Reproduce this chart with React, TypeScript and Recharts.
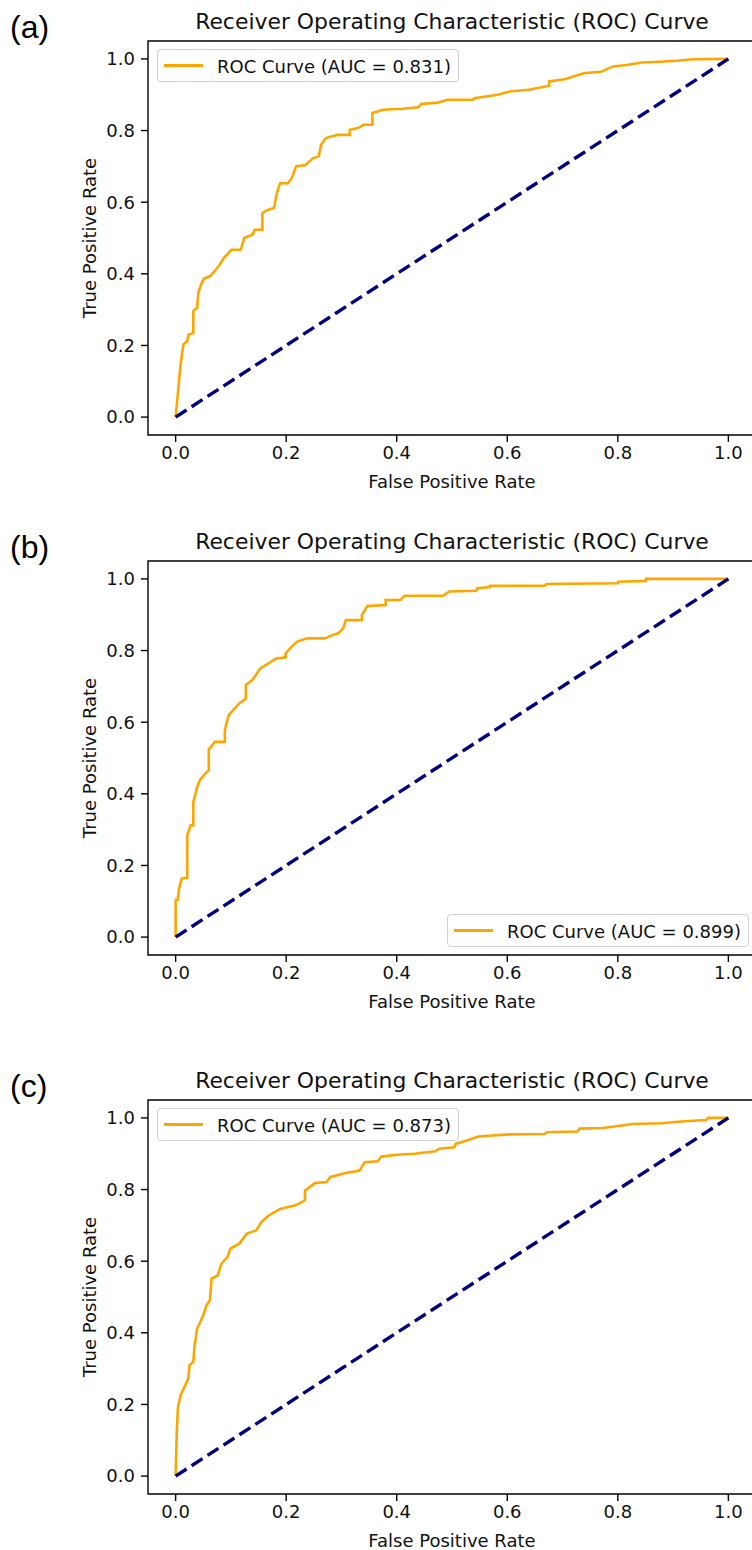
import React from 'react';
import { LineChart, Line, XAxis, YAxis, ReferenceArea } from 'recharts';

// shared axis ticks and panel labels
const ticks = [0, 0.2, 0.4, 0.6, 0.8, 1.0];
const panelLabels = ['(a)', '(b)', '(c)'];
const aucValues = [0.831, 0.899, 0.873];
const chance = [0, 1];

// (a) ROC points
const fprA = [0, 0.009, 0.014, 0.021, 0.023, 0.032, 0.032, 0.039, 0.041, 0.046, 0.051, 0.062, 0.073, 0.080, 0.087, 0.101, 0.118, 0.124, 0.139, 0.143, 0.157, 0.157, 0.168, 0.178, 0.183, 0.189, 0.203, 0.210, 0.218, 0.235, 0.249, 0.259, 0.263, 0.272, 0.280, 0.294, 0.315, 0.315, 0.330, 0.340, 0.356, 0.356, 0.375, 0.410, 0.439, 0.444, 0.475, 0.492, 0.537, 0.541, 0.562, 0.583, 0.604, 0.639, 0.676, 0.676, 0.704, 0.718, 0.738, 0.770, 0.791, 0.816, 0.844, 0.875, 0.907, 0.935, 1.0];
const tprA = [0, 0.147, 0.203, 0.212, 0.230, 0.235, 0.296, 0.305, 0.347, 0.370, 0.386, 0.393, 0.412, 0.426, 0.444, 0.467, 0.467, 0.500, 0.509, 0.523, 0.523, 0.570, 0.579, 0.584, 0.625, 0.653, 0.653, 0.667, 0.700, 0.704, 0.723, 0.728, 0.760, 0.779, 0.783, 0.788, 0.788, 0.802, 0.807, 0.816, 0.816, 0.849, 0.858, 0.861, 0.865, 0.874, 0.878, 0.886, 0.886, 0.890, 0.895, 0.900, 0.909, 0.914, 0.925, 0.937, 0.943, 0.950, 0.960, 0.964, 0.979, 0.983, 0.990, 0.992, 0.995, 0.999, 1.0];

// (b)
const fprB = [0, 0, 0.004, 0.006, 0.011, 0.021, 0.021, 0.027, 0.032, 0.032, 0.039, 0.044, 0.051, 0.060, 0.060, 0.071, 0.089, 0.089, 0.096, 0.104, 0.115, 0.127, 0.127, 0.139, 0.146, 0.153, 0.168, 0.182, 0.199, 0.199, 0.210, 0.220, 0.238, 0.270, 0.280, 0.294, 0.303, 0.308, 0.337, 0.337, 0.347, 0.380, 0.380, 0.407, 0.414, 0.484, 0.495, 0.544, 0.546, 0.569, 0.569, 0.668, 0.671, 0.800, 0.801, 0.851, 0.851, 1.0];
const tprB = [0, 0.103, 0.104, 0.134, 0.163, 0.166, 0.284, 0.312, 0.312, 0.377, 0.419, 0.438, 0.452, 0.466, 0.524, 0.545, 0.545, 0.578, 0.620, 0.634, 0.652, 0.666, 0.704, 0.718, 0.734, 0.750, 0.764, 0.778, 0.781, 0.792, 0.811, 0.825, 0.834, 0.834, 0.841, 0.848, 0.862, 0.885, 0.885, 0.899, 0.924, 0.927, 0.941, 0.941, 0.953, 0.953, 0.965, 0.967, 0.974, 0.977, 0.981, 0.981, 0.986, 0.988, 0.992, 0.994, 1.0, 1.0];

// (c)
const fprC = [0, 0.002, 0.004, 0.009, 0.016, 0.023, 0.025, 0.032, 0.034, 0.039, 0.044, 0.050, 0.056, 0.062, 0.065, 0.076, 0.083, 0.094, 0.099, 0.115, 0.129, 0.146, 0.155, 0.168, 0.189, 0.217, 0.234, 0.234, 0.252, 0.273, 0.280, 0.308, 0.333, 0.342, 0.366, 0.372, 0.400, 0.432, 0.470, 0.477, 0.504, 0.507, 0.523, 0.548, 0.573, 0.604, 0.668, 0.671, 0.727, 0.731, 0.773, 0.808, 0.826, 0.879, 0.914, 0.960, 0.963, 1.0];
const tprC = [0, 0.119, 0.189, 0.226, 0.249, 0.272, 0.309, 0.319, 0.361, 0.412, 0.428, 0.449, 0.477, 0.491, 0.551, 0.560, 0.593, 0.612, 0.635, 0.649, 0.677, 0.686, 0.709, 0.727, 0.746, 0.756, 0.770, 0.797, 0.818, 0.821, 0.835, 0.846, 0.853, 0.876, 0.879, 0.892, 0.897, 0.900, 0.907, 0.914, 0.918, 0.928, 0.935, 0.948, 0.951, 0.954, 0.955, 0.960, 0.962, 0.970, 0.972, 0.979, 0.983, 0.985, 0.990, 0.994, 1.0, 1.0];

const W = 760;
const H = 520;
const FONT = '"DejaVu Sans", sans-serif';
const tickStyle = { fontFamily: FONT, fontSize: 18, fill: '#111' };

const centered = (left: number, top: number, extra: any = {}) => ({
  position: 'absolute' as const,
  left,
  top,
  transform: 'translate(-50%, -50%)',
  whiteSpace: 'nowrap' as const,
  lineHeight: 1,
  fontFamily: FONT,
  fontSize: 18,
  color: '#111',
  ...extra,
});

const RocPanel = ({ top, label, fpr, tpr, auc, legendLeft, legendTop }: any) => {
  const roc = fpr.map((x: number, i: number) => ({ x, y: tpr[i] }));
  const diag = chance.map((v) => ({ x: v, y: v }));
  return (
    <div style={{ position: 'absolute', left: 0, top, width: W, height: H }}>
      <LineChart width={W} height={H} margin={{ top: 41, right: 4, bottom: 55, left: 88 }}>
        <XAxis
          type="number"
          dataKey="x"
          domain={[-0.05, 1.05]}
          ticks={ticks}
          tickFormatter={(v) => v.toFixed(1)}
          height={30}
          axisLine={false}
          tickSize={7}
          tickMargin={4}
          tick={tickStyle}
          tickLine={{ stroke: '#000', strokeWidth: 1.4 }}
        />
        <YAxis
          type="number"
          dataKey="y"
          domain={[-0.05, 1.05]}
          ticks={ticks}
          tickFormatter={(v) => v.toFixed(1)}
          width={60}
          axisLine={false}
          tickSize={7}
          tickMargin={6}
          tick={tickStyle}
          tickLine={{ stroke: '#000', strokeWidth: 1.4 }}
        />
        <ReferenceArea x1={-0.05} x2={1.05} y1={-0.05} y2={1.05} fill="none" fillOpacity={0} stroke="#000" strokeWidth={1.4} ifOverflow="visible" />
        <Line data={roc} dataKey="y" type="linear" stroke="#FFA500" strokeWidth={2.6} dot={false} activeDot={false} isAnimationActive={false} />
        <Line data={diag} dataKey="y" type="linear" stroke="#000080" strokeWidth={3.4} strokeDasharray="13 6" dot={false} activeDot={false} isAnimationActive={false} />
      </LineChart>

      <div style={centered(452, 22, { fontSize: 21.9 })}>Receiver Operating Characteristic (ROC) Curve</div>
      <div style={centered(452, 482)}>False Positive Rate</div>
      <div style={centered(90, 238, { transform: 'translate(-50%, -50%) rotate(-90deg)' })}>True Positive Rate</div>
      <div
        style={{
          position: 'absolute',
          left: 10,
          top: 27,
          transform: 'translateY(-50%)',
          fontFamily: '"Liberation Sans", Arial, sans-serif',
          fontSize: 32,
          lineHeight: 1,
          color: '#000',
        }}
      >
        {label}
      </div>

      <div
        style={{
          position: 'absolute',
          left: legendLeft,
          top: legendTop,
          width: 302,
          height: 33,
          boxSizing: 'border-box',
          border: '1px solid #d0d0d0',
          borderRadius: 4,
          background: 'rgba(255,255,255,0.8)',
        }}
      >
        <div style={{ position: 'absolute', left: 6, top: 14, width: 39, height: 3, background: '#FFA500' }} />
        <div style={{ ...centered(59, 16.5), transform: 'translateY(-50%)' }}>{`ROC Curve (AUC = ${auc.toFixed(3)})`}</div>
      </div>
    </div>
  );
};

export default function App() {
  return (
    <div style={{ position: 'absolute', left: 0, top: 0, width: 752, height: 1550, overflow: 'hidden', background: '#fff' }}>
      <RocPanel top={0} label={panelLabels[0]} fpr={fprA} tpr={tprA} auc={aucValues[0]} legendLeft={157} legendTop={49} />
      <RocPanel top={520} label={panelLabels[1]} fpr={fprB} tpr={tprB} auc={aucValues[1]} legendLeft={447} legendTop={394} />
      <RocPanel top={1059} label={panelLabels[2]} fpr={fprC} tpr={tprC} auc={aucValues[2]} legendLeft={157} legendTop={49} />
    </div>
  );
}
